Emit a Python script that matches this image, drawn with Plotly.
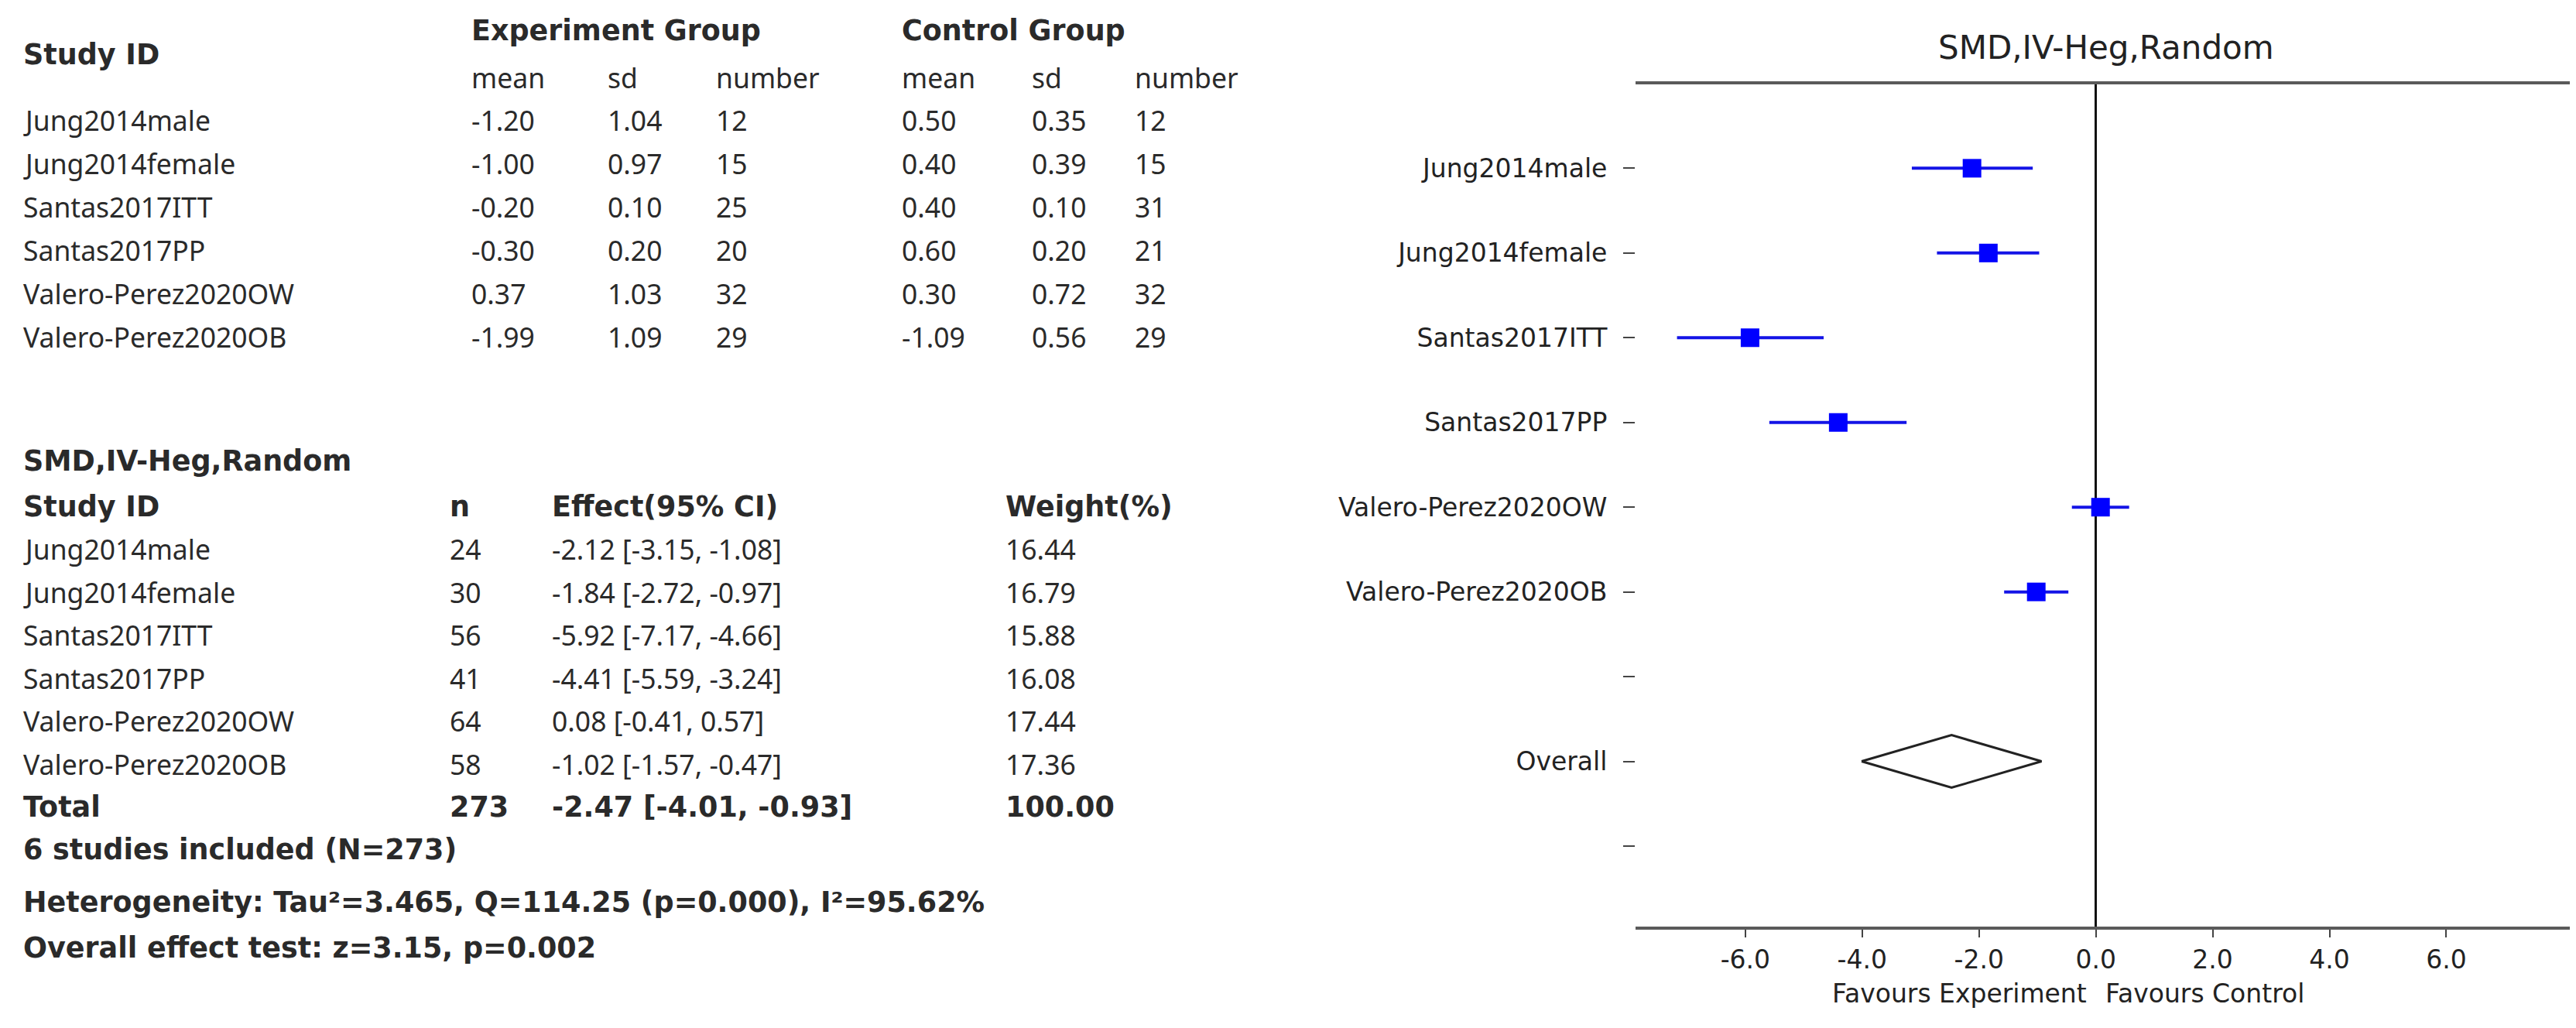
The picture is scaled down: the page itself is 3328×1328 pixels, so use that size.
import plotly.graph_objects as go

W, H = 3328, 1328

# ---------------- data ----------------
studies = ["Jung2014male", "Jung2014female", "Santas2017ITT", "Santas2017PP",
           "Valero-Perez2020OW", "Valero-Perez2020OB"]
exp_mean = [-1.20, -1.00, -0.20, -0.30, 0.37, -1.99]
exp_sd = [1.04, 0.97, 0.10, 0.20, 1.03, 1.09]
exp_n = [12, 15, 25, 20, 32, 29]
ctrl_mean = [0.50, 0.40, 0.40, 0.60, 0.30, -1.09]
ctrl_sd = [0.35, 0.39, 0.10, 0.20, 0.72, 0.56]
ctrl_n = [12, 15, 31, 21, 32, 29]

n_total = [24, 30, 56, 41, 64, 58]
smd = [-2.12, -1.84, -5.92, -4.41, 0.08, -1.02]
ci_lo = [-3.15, -2.72, -7.17, -5.59, -0.41, -1.57]
ci_hi = [-1.08, -0.97, -4.66, -3.24, 0.57, -0.47]
weight = [16.44, 16.79, 15.88, 16.08, 17.44, 17.36]

overall_n = 273
overall_smd = -2.47
overall_lo = -4.01
overall_hi = -0.93
overall_w = 100.00

method_label = "SMD,IV-Heg,Random"
summary_lines = [
    "6 studies included (N=273)",
    "Heterogeneity: Tau\u00b2=3.465, Q=114.25 (p=0.000), I\u00b2=95.62%",
    "Overall effect test: z=3.15, p=0.002",
]
plot_labels = studies + ["", "Overall", ""]
x_ticks = [-6, -4, -2, 0, 2, 4, 6]

# ---------------- style ----------------
REG_FONT, REG_SIZE = "Noto Sans", 35.5
BOLD_FONT, BOLD_SIZE = "DejaVu Sans", 36.5
TCOL = "#2a2a2a"
PFONT = "DejaVu Sans"
PSIZE = 33

# page body has an 8px margin: positions below are screen pixels
OFF = 8
PAD = 2


def px(x):
    return (x - OFF - PAD) / W


def py(y):
    return 1 - (y - OFF) / H


ann = []


def txt(x, y, s, bold=False, anchor="left"):
    ann.append(dict(
        x=px(x), y=py(y), xref="paper", yref="paper",
        text=("<b>%s</b>" % s) if bold else s,
        showarrow=False, xanchor=anchor, yanchor="middle",
        font=dict(family=BOLD_FONT if bold else REG_FONT,
                  size=BOLD_SIZE if bold else REG_SIZE, color=TCOL)))


# ---- table 1 ----
c_id, c_em, c_esd, c_en, c_cm, c_csd, c_cn = 30, 609, 785, 925, 1165, 1333, 1466
txt(c_em, 40, "Experiment Group", bold=True)
txt(c_cm, 40, "Control Group", bold=True)
txt(c_id, 70, "Study ID", bold=True)
for cx, s in [(c_em, "mean"), (c_esd, "sd"), (c_en, "number"),
              (c_cm, "mean"), (c_csd, "sd"), (c_cn, "number")]:
    txt(cx, 100, s)
row1_y0, row1_dy = 155, 56.0
for i, s in enumerate(studies):
    y = row1_y0 + i * row1_dy
    txt(c_id, y, s)
    txt(c_em, y, "%.2f" % exp_mean[i])
    txt(c_esd, y, "%.2f" % exp_sd[i])
    txt(c_en, y, str(exp_n[i]))
    txt(c_cm, y, "%.2f" % ctrl_mean[i])
    txt(c_csd, y, "%.2f" % ctrl_sd[i])
    txt(c_cn, y, str(ctrl_n[i]))

# ---- table 2 ----
c_n, c_eff, c_w = 581, 713, 1299
txt(c_id, 596, method_label, bold=True)
txt(c_id, 654, "Study ID", bold=True)
txt(c_n, 654, "n", bold=True)
txt(c_eff, 654, "Effect(95% CI)", bold=True)
txt(c_w, 654, "Weight(%)", bold=True)
row2_y0, row2_dy = 709, 55.6
for i, s in enumerate(studies):
    y = row2_y0 + i * row2_dy
    txt(c_id, y, s)
    txt(c_n, y, str(n_total[i]))
    txt(c_eff, y, "%.2f [%.2f, %.2f]" % (smd[i], ci_lo[i], ci_hi[i]))
    txt(c_w, y, "%.2f" % weight[i])
y_tot = 1042
txt(c_id, y_tot, "Total", bold=True)
txt(c_n, y_tot, str(overall_n), bold=True)
txt(c_eff, y_tot, "%.2f [%.2f, %.2f]" % (overall_smd, overall_lo, overall_hi), bold=True)
txt(c_w, y_tot, "%.2f" % overall_w, bold=True)
for s, y in zip(summary_lines, [1097, 1165, 1224]):
    txt(c_id, y, s, bold=True)

# ---- plot area (screen px) ----
plot_left, plot_right, plot_top, plot_bottom = 2113, 3328, 109, 1197
fx0 = (plot_left - OFF) / W
fx1 = (plot_right - OFF) / W
fy0 = 1 - (plot_bottom - OFF) / H
fy1 = 1 - (plot_top - OFF) / H

ann.append(dict(x=(fx0 + fx1) / 2, y=py(62), xref="paper", yref="paper",
                text=method_label, showarrow=False, xanchor="center", yanchor="middle",
                font=dict(family=PFONT, size=42, color="#222")))
ann.append(dict(x=0, y=py(1283), xref="x", yref="paper", text="Favours Experiment",
                showarrow=False, xanchor="right", yanchor="middle", xshift=-10,
                font=dict(family=PFONT, size=PSIZE, color="#222")))
ann.append(dict(x=0, y=py(1283), xref="x", yref="paper", text="Favours Control",
                showarrow=False, xanchor="left", yanchor="middle", xshift=10,
                font=dict(family=PFONT, size=PSIZE, color="#222")))

fig = go.Figure()

# study estimates with CI
rows = list(range(len(studies)))
fig.add_trace(go.Scatter(
    x=smd, y=rows, mode="markers",
    marker=dict(symbol="square", size=24, color="#0000ff"),
    error_x=dict(type="data", symmetric=False,
                 array=[h - m for h, m in zip(ci_hi, smd)],
                 arrayminus=[m - l for m, l in zip(smd, ci_lo)],
                 color="#1414e6", thickness=4, width=0),
    showlegend=False, hoverinfo="skip"))

# overall diamond
oy = plot_labels.index("Overall")
half = 0.31
fig.add_trace(go.Scatter(
    x=[overall_lo, overall_smd, overall_hi, overall_smd, overall_lo],
    y=[oy, oy - half, oy, oy + half, oy],
    mode="lines", line=dict(color="#222", width=3),
    showlegend=False, hoverinfo="skip"))

fig.update_layout(
    width=W, height=H,
    margin=dict(l=0, r=0, t=0, b=0),
    paper_bgcolor="white", plot_bgcolor="white",
    annotations=ann,
    xaxis=dict(
        domain=[fx0, fx1],
        range=[-7.88, 8.22],
        tickvals=x_ticks, ticktext=["%.1f" % v for v in x_ticks],
        ticks="outside", ticklen=10, tickwidth=2, tickcolor="#444",
        showline=True, linewidth=4, linecolor="#5a5a5a", mirror=True,
        showgrid=False,
        zeroline=True, zerolinecolor="#111", zerolinewidth=3,
        tickfont=dict(family=PFONT, size=PSIZE, color="#222"),
    ),
    yaxis=dict(
        domain=[fy0, fy1],
        range=[8.95, -0.99],
        tickvals=list(range(len(plot_labels))), ticktext=plot_labels,
        ticks="outside", ticklen=15, tickwidth=2, tickcolor="#444",
        ticklabelstandoff=14,
        showline=False, showgrid=False, zeroline=False,
        tickfont=dict(family=PFONT, size=PSIZE, color="#222"),
    ),
)

fig.write_html("out.html")
